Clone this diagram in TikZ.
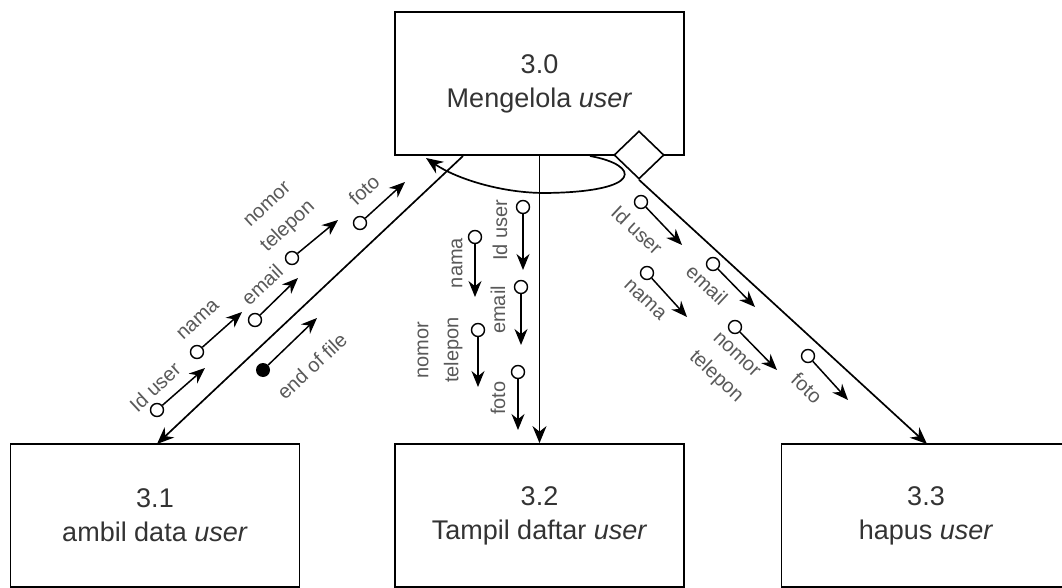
\documentclass[tikz,border=0pt]{standalone}
\usepackage{fontspec}
\setmainfont{Liberation Sans}
\usetikzlibrary{arrows.meta,shapes.geometric}
\begin{document}
\begin{tikzpicture}[x=1pt,y=-1pt,
 proc/.style={draw, line width=1.8pt, minimum width=289pt, minimum height=143pt, align=center, font=\fontsize{27}{34}\selectfont, text=black!80, inner sep=0},
 lbl/.style={font=\fontsize{20}{30}\selectfont, text=black!65, align=center, inner sep=0},
 flow/.style={line width=1.7pt, -{Stealth[length=17pt,width=14pt]}},
 couple/.style={line width=1.5pt, -{Stealth[length=16pt,width=13pt]}},
 dc/.style={circle, draw, line width=1.4pt, fill=white, minimum size=13pt, inner sep=0},
 ctl/.style={circle, fill=black, minimum size=14pt, inner sep=0},
]
\useasboundingbox (0,0) rectangle (1062,588);
\clip (0,0) rectangle (1062,588);

% process boxes
\node[proc] (top) at (539.5,83.5) {3.0\\Mengelola \textit{user}};
\node[proc] (n31) at (155,515.5) {3.1\\ambil data \textit{user}};
\node[proc] (n32) at (539.5,515.5) {3.2\\Tampil daftar \textit{user}};
\node[proc] (n33) at (926,515.5) {3.3\\hapus \textit{user}};
\node[diamond, draw, fill=white, line width=1.6pt, minimum width=50pt, minimum height=48pt, inner sep=0] (dia) at (639,155) {};

% main connectors
\coordinate (l0) at (463,156);
\coordinate (l1) at (157,444);
\coordinate (r1) at (927,444);
\draw[flow] (l0) -- (l1);
\draw[flow] (top.south) -- (n32.north);
\draw[flow] (dia.south) -- (r1);

% iteration loop
\coordinate (lp0) at (590,156);
\coordinate (lp1) at (545,193);
\coordinate (lp2) at (426,158);
\draw[flow] (lp0) .. controls (640,165) and (645,192) .. (lp1)
  .. controls (500,193) and (455,178) .. (lp2);

% left couples (up-right)
\node[dc] (a1) at (157,410) {}; \coordinate (a1e) at (205,368);
\node[dc] (a2) at (197,352) {}; \coordinate (a2e) at (242,312);
\node[dc] (a3) at (255,320) {}; \coordinate (a3e) at (298,278);
\node[dc] (a4) at (292,258) {}; \coordinate (a4e) at (338,220);
\node[dc] (a5) at (360,223) {}; \coordinate (a5e) at (405,182);
\node[ctl] (a6) at (263,370) {}; \coordinate (a6e) at (317,318);
\foreach \i in {1,...,6} {\draw[couple] (a\i) -- (a\i e);}
\node[lbl, rotate=43] (la1) at (155,387) {Id user};
\node[lbl, rotate=43] (la2) at (198,320) {nama};
\node[lbl, rotate=43] (la3) at (262,285) {email};
\node[lbl, rotate=43] (la4) at (279,217) {nomor\\telepon};
\node[lbl, rotate=43] (la5) at (364,190) {foto};
\node[lbl, rotate=43] (la6) at (312,366) {end of file};

% middle couples (down)
\node[dc] (b1) at (523,207) {}; \coordinate (b1e) at (523,270);
\node[dc] (b2) at (475,237) {}; \coordinate (b2e) at (475,297);
\node[dc] (b3) at (521,287) {}; \coordinate (b3e) at (521,345);
\node[dc] (b4) at (478,330) {}; \coordinate (b4e) at (478,387);
\node[dc] (b5) at (518,372) {}; \coordinate (b5e) at (518,430);
\foreach \i in {1,...,5} {\draw[couple] (b\i) -- (b\i e);}
\node[lbl, rotate=90] (lb1) at (500,230) {Id user};
\node[lbl, rotate=90] (lb2) at (457,263) {nama};
\node[lbl, rotate=90] (lb3) at (498,310) {email};
\node[lbl, rotate=90] (lb4) at (440,350) {nomor\\telepon};
\node[lbl, rotate=90] (lb5) at (498,398) {foto};

% right couples (down-right)
\node[dc] (c1) at (641,202) {}; \coordinate (c1e) at (682,245);
\node[dc] (c2) at (713,264) {}; \coordinate (c2e) at (755,307);
\node[dc] (c3) at (647,273) {}; \coordinate (c3e) at (687,317);
\node[dc] (c4) at (735,327) {}; \coordinate (c4e) at (777,370);
\node[dc] (c5) at (808,356) {}; \coordinate (c5e) at (848,400);
\foreach \i in {1,...,5} {\draw[couple] (c\i) -- (c\i e);}
\node[lbl, rotate=-43] (lc1) at (637,230) {Id user};
\node[lbl, rotate=-43] (lc2) at (707,285) {email};
\node[lbl, rotate=-43] (lc3) at (645,300) {nama};
\node[lbl, rotate=-43] (lc4) at (725,367) {nomor\\telepon};
\node[lbl, rotate=-43] (lc5) at (807,388) {foto};
\end{tikzpicture}
\end{document}
